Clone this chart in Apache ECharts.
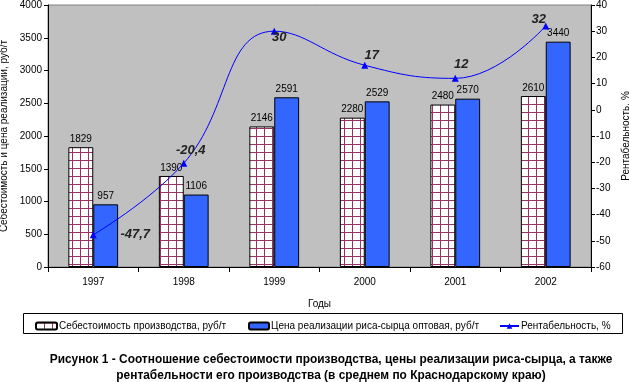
<!DOCTYPE html>
<html><head><meta charset="utf-8">
<script src="https://cdn.jsdelivr.net/npm/echarts@6/dist/echarts.min.js"></script>
<style>html,body{margin:0;padding:0;background:#fff}#c{width:629px;height:382px}</style>
</head><body><div id="c"></div>
<script>
const years = ['1997','1998','1999','2000','2001','2002'];
const costValues = [1829, 1390, 2146, 2280, 2480, 2610];
const priceValues = [957, 1106, 2591, 2529, 2570, 3440];
const profitValues = [-47.7, -20.4, 30, 17, 12, 32];
const leftTicks = {min: 0, max: 4000, interval: 500};
const rightTicks = {min: -60, max: 40, interval: 10};
const seriesNames = ['Себестоимость производства, руб/т', 'Цена реализации риса-сырца оптовая, руб/т', 'Рентабельность, %'];
const profitLabelOffsets = [[42, 0], [7, -13], [5, 6], [7, -10], [6, -14], [-7, -7]];

const pc = document.createElement('canvas');
pc.width = 8; pc.height = 8;
const ctx = pc.getContext('2d');
ctx.fillStyle = '#ffffff'; ctx.fillRect(0,0,8,8);
ctx.fillStyle = '#993366'; ctx.fillRect(0,0,8,1); ctx.fillRect(0,0,1,8);

const FONT = '"Liberation Sans", Arial, sans-serif';
const legendText = {fontFamily: FONT, fontSize: 10, color: '#000', padding: [0, 0, 0, -3]};
const chart = echarts.init(document.getElementById('c'), null, {renderer: 'canvas'});
chart.setOption({
  animation: false,
  backgroundColor: '#ffffff',
  textStyle: {fontFamily: FONT},
  title: {
    text: 'Рисунок 1 - Соотношение себестоимости производства, цены реализации риса-сырца, а также\nрентабельности его производства (в среднем по Краснодарскому краю)',
    left: 326, top: 347, textAlign: 'center',
    textStyle: {fontFamily: FONT, fontSize: 11.9, fontWeight: 'bold', color: '#000', lineHeight: 16}
  },
  grid: {left: 48, right: 38, top: 5, bottom: 115, outerBoundsMode: 'none', containLabel: false, show: true, backgroundColor: '#C0C0C0', borderColor: '#808080', borderWidth: 1},
  graphic: [{type: 'rect', shape: {x: 23.5, y: 313.5, width: 599, height: 20}, style: {fill: 'none', stroke: '#000', lineWidth: 1}, z: 0}],
  legend: [
    {data: [seriesNames[0]], left: 30, top: 316, itemWidth: 21, itemHeight: 7, itemGap: 0, textStyle: legendText},
    {data: [seriesNames[1]], left: 243, top: 316, itemWidth: 20, itemHeight: 7, itemGap: 0, textStyle: legendText},
    {data: [seriesNames[2]], left: 494, top: 316, itemWidth: 19, itemHeight: 7, itemGap: 0, textStyle: legendText}
  ],
  xAxis: {
    type: 'category', data: years,
    name: 'Годы', nameLocation: 'middle', nameGap: 32,
    nameTextStyle: {fontFamily: FONT, fontSize: 10, color: '#000'},
    axisLine: {lineStyle: {color: '#000', width: 1}},
    axisTick: {show: true, length: 5, lineStyle: {color: '#000'}},
    axisLabel: {fontFamily: FONT, fontSize: 10, color: '#000', margin: 10}
  },
  yAxis: [
    {
      type: 'value', min: leftTicks.min, max: leftTicks.max, interval: leftTicks.interval,
      name: 'Себестоимость и цена реализации, руб/т', nameLocation: 'middle', nameGap: 35, nameRotate: 90,
      nameTextStyle: {fontFamily: FONT, fontSize: 10, color: '#000'},
      axisLine: {show: true, lineStyle: {color: '#000'}},
      axisTick: {show: true, length: 4, lineStyle: {color: '#000'}},
      axisLabel: {fontFamily: FONT, fontSize: 10, color: '#000', margin: 6, formatter: v => String(v)},
      splitLine: {show: false}
    },
    {
      type: 'value', min: rightTicks.min, max: rightTicks.max, interval: rightTicks.interval,
      name: 'Рентабельность, %', nameLocation: 'middle', nameGap: 24, nameRotate: 90,
      nameTextStyle: {fontFamily: FONT, fontSize: 10, color: '#000'},
      axisLine: {show: true, lineStyle: {color: '#000'}},
      axisTick: {show: true, length: 4, lineStyle: {color: '#000'}},
      axisLabel: {fontFamily: FONT, fontSize: 10, color: '#000', margin: 5, formatter: v => String(v)},
      splitLine: {show: false}
    }
  ],
  series: [
    {
      name: seriesNames[0], type: 'bar', data: costValues, barGap: '0%', barCategoryGap: '45%',
      itemStyle: {color: {image: pc, repeat: 'repeat'}, borderColor: '#000', borderWidth: 1},
      label: {show: true, position: 'top', distance: 3, fontFamily: FONT, fontSize: 10, color: '#000'}
    },
    {
      name: seriesNames[1], type: 'bar', data: priceValues,
      itemStyle: {color: '#3366FF', borderColor: '#000', borderWidth: 1},
      label: {show: true, position: 'top', distance: 3, fontFamily: FONT, fontSize: 10, color: '#000'}
    },
    {
      name: seriesNames[2], type: 'line', yAxisIndex: 1, smooth: 0.45,
      data: profitValues.map((v, i) => ({value: v, label: {offset: profitLabelOffsets[i]}})),
      symbol: 'triangle', symbolSize: 7,
      lineStyle: {color: '#0000FF', width: 1},
      itemStyle: {color: '#0000FF'},
      label: {show: true, position: 'inside', fontFamily: FONT, fontSize: 13, fontWeight: 'bold', fontStyle: 'italic', color: '#222',
        formatter: p => String(p.value).replace('.', ',')},
      z: 5
    }
  ]
});
</script></body></html>
